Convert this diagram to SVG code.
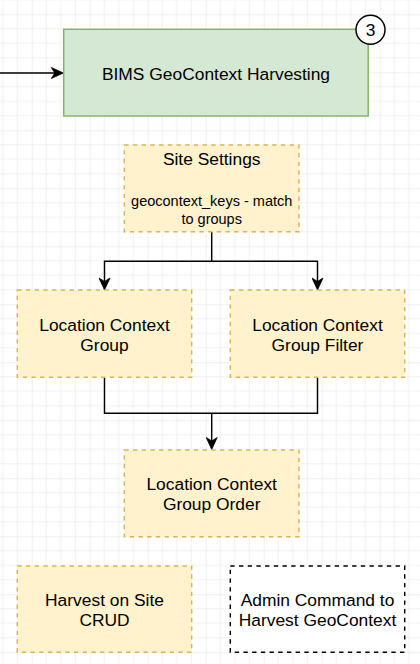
<svg xmlns="http://www.w3.org/2000/svg" width="420" height="664" viewBox="0 0 420 664">
  <style>
    text { font-family: "Liberation Sans", Arial, sans-serif; fill: #000; text-anchor: middle; }
    .t { font-size: 17.4px; }
    .s { font-size: 14.5px; }
    .yel { fill: #fff2cc; stroke: #d6b656; stroke-width: 1.45; stroke-dasharray: 4.35 4.35; }
    .wht { fill: #ffffff; stroke: #000000; stroke-width: 1.45; stroke-dasharray: 4.35 4.35; }
    .grn { fill: #d5e8d4; stroke: #82b366; stroke-width: 1.45; }
    .edge { fill: none; stroke: #000; stroke-width: 1.45; }
  </style>
  <defs>
    <pattern id="grid" patternUnits="userSpaceOnUse" x="31.7" y="14.3" width="58" height="58">
      <path d="M14.5 0V58M29 0V58M43.5 0V58M0 14.5H58M0 29H58M0 43.5H58" stroke="#f1f1f1" stroke-width="1" fill="none"/>
      <path d="M0 0V58M0 0H58" stroke="#e2e2e2" stroke-width="1" fill="none"/>
    </pattern>
    <marker id="arr" markerUnits="userSpaceOnUse" viewBox="0 0 14 12" markerWidth="14" markerHeight="12" refX="10" refY="6" orient="auto">
      <path d="M1,0.5 L13,6 L1,11.5 L4.5,6 Z" fill="#000" stroke="#000" stroke-width="0.8" stroke-linejoin="miter"/>
    </marker>
  </defs>
  <rect x="0" y="0" width="420" height="664" fill="#ffffff"/>
  <rect x="0" y="0" width="420" height="664" fill="url(#grid)"/>

  <g id="connectors">
    <path class="edge" d="M0 73H60.3" marker-end="url(#arr)"/>
    <path class="edge" d="M211.7 231.7V261.3H104.5V287" marker-end="url(#arr)"/>
    <path class="edge" d="M211.7 261.3H317.5V287" marker-end="url(#arr)"/>
    <path class="edge" d="M104.5 377.3V413.3H317.5V377.3"/>
    <path class="edge" d="M211.7 413.3V446.5" marker-end="url(#arr)"/>
  </g>

  <g id="harvesting">
    <rect class="grn" x="63.7" y="29.3" width="304.5" height="86.7"/>
    <text class="t" x="216" y="80">BIMS GeoContext Harvesting</text>
  </g>
  <g id="badge3">
    <circle cx="370.5" cy="29.8" r="14.5" fill="#ffffff" stroke="#000" stroke-width="1.45"/>
    <text class="t" x="370.5" y="36">3</text>
  </g>
  <g id="site-settings">
    <rect class="yel" x="124.3" y="145" width="174.7" height="86.7"/>
    <text class="t" x="211.7" y="164.5">Site Settings</text>
    <text class="s" x="211.7" y="205.5">geocontext_keys - match</text>
    <text class="s" x="211.7" y="223.5">to groups</text>
  </g>
  <g id="lc-group">
    <rect class="yel" x="17.3" y="290" width="174.4" height="87.3"/>
    <text class="t" x="104.5" y="330.5">Location Context</text>
    <text class="t" x="104.5" y="350.5">Group</text>
  </g>
  <g id="lc-group-filter">
    <rect class="yel" x="230.3" y="290" width="174.4" height="87.3"/>
    <text class="t" x="317.5" y="330.5">Location Context</text>
    <text class="t" x="317.5" y="350.5">Group Filter</text>
  </g>
  <g id="lc-group-order">
    <rect class="yel" x="124.3" y="450" width="174.7" height="86.7"/>
    <text class="t" x="211.7" y="490">Location Context</text>
    <text class="t" x="211.7" y="510">Group Order</text>
  </g>
  <g id="harvest-crud">
    <rect class="yel" x="17.3" y="566" width="174.4" height="86.3"/>
    <text class="t" x="104.5" y="605.7">Harvest on Site</text>
    <text class="t" x="104.5" y="625.7">CRUD</text>
  </g>
  <g id="admin-command">
    <rect class="wht" x="230.3" y="566" width="174.4" height="86.3"/>
    <text class="t" x="317.5" y="605.7">Admin Command to</text>
    <text class="t" x="317.5" y="625.7">Harvest GeoContext</text>
  </g>
</svg>
